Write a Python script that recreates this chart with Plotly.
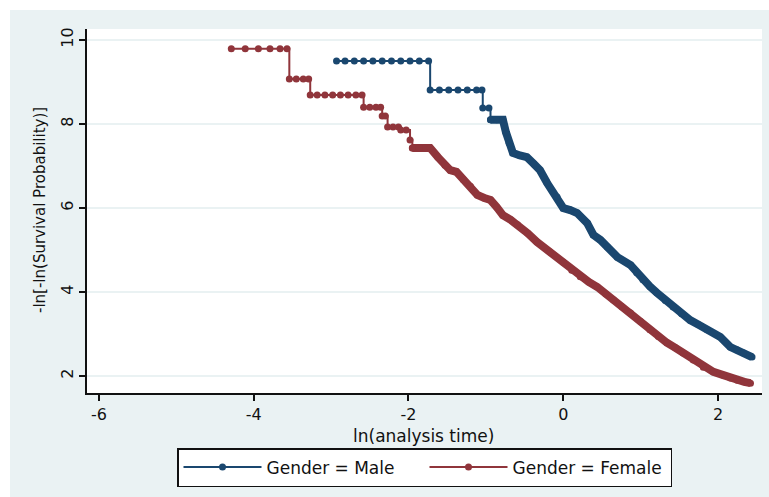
import plotly.graph_objects as go

# -ln[-ln(S(t))] against ln(t), read per gender group
male_x = [-2.93, -2.82, -2.70, -2.58, -2.46, -2.34, -2.22, -2.10, -1.98, -1.86, -1.74,
          -1.72, -1.60, -1.48, -1.36, -1.24, -1.12, -1.05,
          -1.04, -0.96,
          -0.94, -0.86, -0.78,
          -0.74, -0.70, -0.65, -0.56, -0.47, -0.38, -0.30, -0.21, -0.08, 0.00,
          0.09, 0.18, 0.31, 0.39, 0.48, 0.57, 0.70, 0.87, 0.95, 1.03, 1.12, 1.21,
          1.32, 1.42, 1.53, 1.64, 1.75, 1.86, 2.03, 2.16, 2.25, 2.33, 2.44]
male_y = [9.50, 9.50, 9.50, 9.50, 9.50, 9.50, 9.50, 9.50, 9.50, 9.50, 9.50,
          8.81, 8.81, 8.81, 8.81, 8.81, 8.81, 8.81,
          8.38, 8.38,
          8.10, 8.10, 8.10,
          7.80, 7.55, 7.31, 7.25, 7.21, 7.05, 6.90, 6.60, 6.26, 6.00,
          5.95, 5.88, 5.64, 5.36, 5.24, 5.07, 4.83, 4.64, 4.46, 4.29, 4.13, 3.98,
          3.80, 3.64, 3.48, 3.33, 3.22, 3.10, 2.93, 2.69, 2.62, 2.55, 2.45]

female_x = [-4.29, -4.11, -3.94, -3.79, -3.66, -3.57,
            -3.54, -3.45, -3.36, -3.29,
            -3.27, -3.18, -3.08, -2.98, -2.88, -2.78, -2.68, -2.60,
            -2.58, -2.50, -2.42, -2.36,
            -2.34, -2.30,
            -2.27, -2.20, -2.13,
            -2.10, -2.03,
            -1.98,
            -1.95, -1.86, -1.78, -1.72,
            -1.62, -1.53, -1.46, -1.38, -1.29, -1.20, -1.11, -1.02, -0.94, -0.86,
            -0.78, -0.68, -0.59, -0.46, -0.34, -0.17, 0.00, 0.11, 0.22, 0.33,
            0.44, 0.55, 0.65, 0.76, 0.87, 1.00, 1.12, 1.23, 1.34, 1.45, 1.55,
            1.68, 1.81, 1.94, 2.07, 2.16, 2.25, 2.34, 2.42]
female_y = [9.79, 9.79, 9.79, 9.79, 9.79, 9.79,
            9.07, 9.07, 9.07, 9.07,
            8.69, 8.69, 8.69, 8.69, 8.69, 8.69, 8.69, 8.69,
            8.40, 8.40, 8.40, 8.40,
            8.19, 8.19,
            7.93, 7.93, 7.93,
            7.86, 7.86,
            7.62,
            7.43, 7.43, 7.43, 7.43,
            7.21, 7.02, 6.90, 6.86, 6.67, 6.52, 6.31, 6.24, 6.19, 6.02,
            5.83, 5.72, 5.60, 5.40, 5.19, 4.95, 4.71, 4.52, 4.36, 4.24,
            4.12, 3.95, 3.81, 3.65, 3.50, 3.30, 3.10, 2.94, 2.79, 2.67, 2.55,
            2.38, 2.21, 2.10, 2.02, 1.95, 1.90, 1.86, 1.83]

x_ticks = [-6, -4, -2, 0, 2]
y_ticks = [2, 4, 6, 8, 10]

NAVY = "#1A476F"
MAROON = "#90353B"
BG = "#EAF2F3"
FONT = "DejaVu Sans"

# first index of the densely populated part of each curve
male_dense = male_x.index(-0.94)
female_dense = female_x.index(-1.95)

fig = go.Figure()

# sparse early part: step curve with a marker at each event (also the legend entry)
fig.add_trace(go.Scatter(x=male_x[:male_dense + 1], y=male_y[:male_dense + 1],
                         mode="lines+markers", name="Gender = Male", legendrank=1,
                         line=dict(color=NAVY, width=2, shape="hv"),
                         marker=dict(color=NAVY, size=7, symbol="circle")))
fig.add_trace(go.Scatter(x=female_x[:female_dense + 1], y=female_y[:female_dense + 1],
                         mode="lines+markers", name="Gender = Female", legendrank=2,
                         line=dict(color=MAROON, width=2, shape="hv"),
                         marker=dict(color=MAROON, size=7, symbol="circle")))

# dense later part: crowded events merge into a thick band
fig.add_trace(go.Scatter(x=male_x[male_dense:], y=male_y[male_dense:], mode="lines+markers",
                         line=dict(color=NAVY, width=8),
                         marker=dict(color=NAVY, size=7, symbol="circle"),
                         showlegend=False, hoverinfo="skip"))
fig.add_trace(go.Scatter(x=female_x[female_dense:], y=female_y[female_dense:], mode="lines+markers",
                         line=dict(color=MAROON, width=8),
                         marker=dict(color=MAROON, size=7, symbol="circle"),
                         showlegend=False, hoverinfo="skip"))

W, H = 769, 497
ML, MR, MT, MB = 87, 7, 29, 104
PW, PH = W - ML - MR, H - MT - MB


def px_x(p):
    return (p - ML) / PW


def px_y(p):
    return (H - MB - p) / PH


fig.update_layout(
    width=W, height=H,
    margin=dict(l=ML, r=MR, t=MT, b=MB),
    paper_bgcolor=BG,
    plot_bgcolor="white",
    font=dict(family=FONT, size=16, color="#111111"),
    showlegend=True,
    legend=dict(
        orientation="h", x=0.5, xanchor="center", y=px_y(448), yanchor="top",
        bgcolor="white", bordercolor="#111111", borderwidth=1.5,
        font=dict(family=FONT, size=17, color="#111111"),
        entrywidth=153, itemwidth=78,
    ),
    shapes=[
        dict(type="rect", xref="paper", yref="paper", x0=px_x(-5), x1=px_x(10),
             y0=px_y(H + 5), y1=px_y(-5), fillcolor="white", line=dict(width=0)),
        dict(type="rect", xref="paper", yref="paper", x0=px_x(-5), x1=px_x(W + 5),
             y0=px_y(10), y1=px_y(-5), fillcolor="white", line=dict(width=0)),
    ],
    annotations=[
        dict(text="ln(analysis time)", xref="paper", yref="paper", x=px_x(423), y=px_y(436),
             xanchor="center", yanchor="middle", showarrow=False,
             font=dict(family=FONT, size=17, color="#111111")),
        dict(text="-ln[-ln(Survival Probability)]", xref="paper", yref="paper",
             x=px_x(40), y=px_y(210), xanchor="center", yanchor="middle",
             textangle=-90, showarrow=False,
             font=dict(family=FONT, size=15, color="#111111")),
    ],
)

fig.update_xaxes(
    range=[-6.155, 2.569], tickmode="array", tickvals=x_ticks,
    ticktext=[str(v) for v in x_ticks],
    showgrid=False, zeroline=False,
    showline=True, linecolor="#111111", linewidth=1.5,
    ticks="outside", ticklen=6, tickwidth=1.5, tickcolor="#111111",
    tickfont=dict(family=FONT, size=16, color="#111111"),
)
fig.update_yaxes(
    range=[1.595, 10.262], tickmode="array", tickvals=y_ticks,
    ticktext=[str(v) for v in y_ticks], tickangle=-90,
    showgrid=True, gridcolor=BG, gridwidth=1.5, zeroline=False,
    showline=True, linecolor="#111111", linewidth=1.5,
    ticks="outside", ticklen=6, tickwidth=1.5, tickcolor="#111111",
    tickfont=dict(family=FONT, size=16, color="#111111"),
)

fig.write_html("out.html")
